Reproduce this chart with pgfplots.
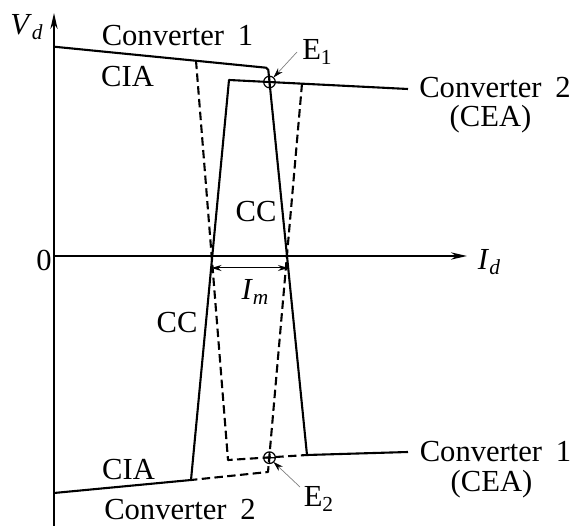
\documentclass[border=0pt]{standalone}
\usepackage{fontspec}
\setmainfont{Liberation Serif}
\usepackage{pgfplots}
\pgfplotsset{compat=1.18}
\usetikzlibrary{arrows.meta}

\tikzset{
  lbl/.style={font=\fontsize{15.3}{17}\selectfont, inner sep=0pt, anchor=base},
  char/.style={black, line width=1.05pt, line join=round},
  axisline/.style={black, line width=1.05pt,
    -{Stealth[length=8pt,width=3.6pt]}},
  pointer/.style={gray, line width=0.35pt,
    -{Stealth[length=5pt,width=3pt,black]}},
}

\begin{document}
\begin{tikzpicture}
\begin{axis}[
  x=0.5pt, y=0.5pt,
  xmin=-54, xmax=524, ymin=-270, ymax=256,
  hide axis, clip=false,
]
\path (rel axis cs:0,0) rectangle (rel axis cs:1,1);

% coordinate axes
\addplot[axisline, mark=none] coordinates {(0,-270) (0,243)};
\addplot[axisline, mark=none] coordinates {(0,0) (413,0)};

% converter 1: CIA, current control, CEA (solid)
\addplot[char, mark=none] coordinates {(0,209.3) (212,188.3) (214.3,186) (215.5,174) (253,-199) (354,-196)};
% converter 1 with shifted current order (dashed)
\addplot[char, mark=none, dash pattern=on 4.2pt off 2.2pt] coordinates {(142,195.3) (174,-204) (253,-199)};

% converter 2: CEA, current control, CIA (solid)
\addplot[char, mark=none] coordinates {(354,167) (175,176) (137,-224) (0,-237)};
% converter 2 with shifted current order (dashed)
\addplot[char, mark=none, dash pattern=on 4.2pt off 2.2pt] coordinates {(248,172.3) (214,-216) (137,-224)};

% current margin
\addplot[black, line width=0.5pt, mark=none,
  {Stealth[length=5pt,width=3pt]}-{Stealth[length=5pt,width=3pt]}]
  coordinates {(157.5,-12) (234,-12)};

% operating points
\addplot[only marks, mark=oplus, mark size=2.9pt,
  mark options={black, fill=white, line width=0.6pt}]
  coordinates {(215.5,174) (215.5,-201.7)};

% pointers to the operating points
\addplot[pointer, mark=none] coordinates {(243,204) (219.5,178.5)};
\addplot[pointer, mark=none] coordinates {(246,-231) (219.5,-206)};

% labels
\node[lbl] at (axis cs:-27,221) {\textit{V}\textsubscript{\textit{d}}};
\node[lbl] at (axis cs:-10,-15) {0};
\node[lbl] at (axis cs:435.5,-14) {\textit{I}\textsubscript{\textit{d}}};
\node[lbl] at (axis cs:123.5,210) {Converter\hspace{0.45em}1};
\node[lbl] at (axis cs:73.5,169) {CIA};
\node[lbl] at (axis cs:263.5,196) {E\textsubscript{1}};
\node[lbl] at (axis cs:441,158) {Converter\hspace{0.45em}2};
\node[lbl] at (axis cs:436.5,129) {(CEA)};
\node[lbl] at (axis cs:202,34) {CC};
\node[lbl] at (axis cs:123,-77) {CC};
\node[lbl] at (axis cs:201.5,-44) {\textit{I}\textsubscript{\textit{m}}};
\node[lbl] at (axis cs:74.5,-224) {CIA};
\node[lbl] at (axis cs:126,-264) {Converter\hspace{0.45em}2};
\node[lbl] at (axis cs:441.5,-206) {Converter\hspace{0.45em}1};
\node[lbl] at (axis cs:437.5,-236) {(CEA)};
\node[lbl] at (axis cs:265,-251) {E\textsubscript{2}};
\end{axis}
\end{tikzpicture}
\end{document}
